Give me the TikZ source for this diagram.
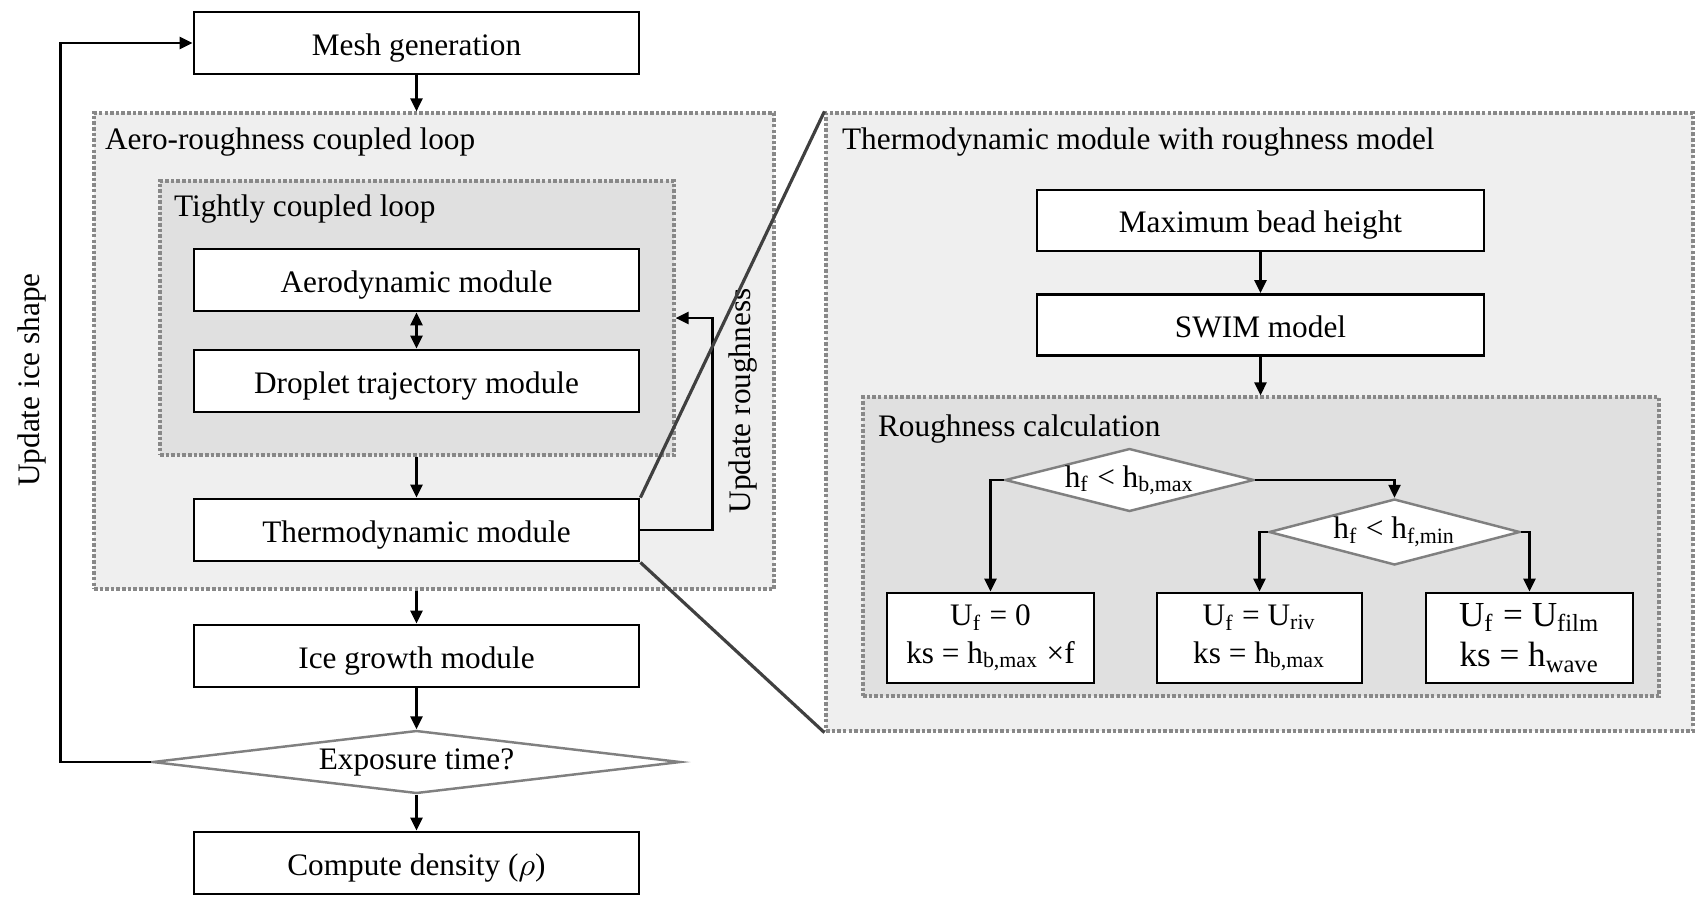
\documentclass[tikz,border=0pt]{standalone}
\usepackage{fontspec}
\setmainfont{Liberation Serif}
\usetikzlibrary{arrows.meta,positioning,calc,shapes.geometric}
\definecolor{loopfill}{RGB}{239,239,239}
\definecolor{tightfill}{RGB}{224,224,224}
\definecolor{dotgray}{RGB}{136,136,136}
\definecolor{zoomgray}{RGB}{64,64,64}
\tikzset{
  mbox/.style={draw, line width=0.8pt, fill=white, minimum width=4.45cm, minimum height=0.62cm, inner sep=0pt, text height=2ex, text depth=0.5ex},
  cbox/.style={draw, line width=0.8pt, fill=white, minimum width=2.06cm, minimum height=0.9cm, align=center, inner sep=0pt},
  dbox/.style={diamond, draw=gray, line width=0.7pt, fill=white, inner sep=0pt},
  loopbox/.style={draw=dotgray, line width=0.9pt, dash pattern=on 1pt off 0.6pt, inner sep=0pt},
  ltitle/.style={anchor=west, inner sep=0pt},
  arr/.style={-{Triangle[length=1.3mm, width=1.2mm]}, line width=0.7pt},
  biarr/.style={{Triangle[length=1.3mm, width=1.2mm]}-{Triangle[length=1.3mm, width=1.2mm]}, line width=0.7pt},
  zoomln/.style={zoomgray, line width=0.9pt},
}

\begin{document}
\begin{tikzpicture}[font=\fontsize{8.9}{10.7}\selectfont]
\useasboundingbox (0,0) rectangle (16.98,-8.97);
% containers
\node[loopbox, fill=loopfill, minimum width=6.80cm, minimum height=4.76cm] (aeroloop) at (4.34,-3.51) {};
\node[loopbox, fill=tightfill, minimum width=5.14cm, minimum height=2.74cm] (tight) at (4.17,-3.18) {};
\node[loopbox, fill=loopfill, minimum width=8.67cm, minimum height=6.18cm] (thpanel) at (12.595,-4.22) {};
\node[loopbox, fill=tightfill, minimum width=7.96cm, minimum height=2.99cm] (rcalc) at (12.61,-5.465) {};
\node[ltitle] (aerolab) at ([shift={(0.12,-0.31)}]aeroloop.north west) {Aero-roughness coupled loop};
\node[ltitle] (tightlab) at ([shift={(0.15,-0.30)}]tight.north west) {Tightly coupled loop};
\node[ltitle] (thlab) at ([shift={(0.17,-0.31)}]thpanel.north west) {Thermodynamic module with roughness model};
\node[ltitle] (rclab) at ([shift={(0.16,-0.34)}]rcalc.north west) {Roughness calculation};

% main loop
\node[mbox] (mesh) at (4.165,-0.43) {Mesh generation};
\node[mbox] (aero) at (4.165,-2.80) {Aerodynamic module};
\node[mbox] (drop) at (4.165,-3.81) {Droplet trajectory module};
\node[mbox] (thermo) at (4.165,-5.30) {Thermodynamic module};
\node[mbox] (ice) at (4.165,-6.56) {Ice growth module};
\node[dbox, aspect=8.4, minimum width=5.28cm, minimum height=0.63cm] (expo) at (4.165,-7.62) {Exposure time?};
\node[mbox] (dens) at (4.165,-8.63) {Compute density ($\rho$)};
\node[rotate=90] (roughlab) at (7.43,-4.01) {Update roughness};
\node[rotate=90] (shapelab) at (0.32,-3.80) {Update ice shape};

\draw[arr] (mesh.south) -- (mesh.south |- aeroloop.north);
\draw[biarr] (aero.south) -- (drop.north);
\draw[arr] (tight.south -| thermo.north) -- (thermo.north);
\draw[arr] (ice.north |- aeroloop.south) -- (ice.north);
\draw[arr] (ice.south) -- (expo.north);
\draw[arr] (expo.south) -- (dens.north);
\draw[arr] (thermo.east) -- ++(0.72,0) |- (tight.east);
\draw[arr] (expo.west) -- ++(-0.91,0) |- (mesh.west);

% zoom lines
\draw[zoomln] (thermo.north east) -- (thpanel.north west);
\draw[zoomln] (thermo.south east) -- (thpanel.south west);

% roughness model
\node[mbox, minimum width=4.47cm, minimum height=0.61cm] (bead) at (12.605,-2.205) {Maximum bead height};
\node[mbox, minimum width=4.47cm, minimum height=0.61cm] (swim) at (12.605,-3.25) {SWIM model};
\node[dbox, aspect=3.95, minimum width=2.49cm, minimum height=0.63cm] (d1) at (11.295,-4.80) {h\textsubscript{f} < h\textsubscript{b,max}};
\node[dbox, aspect=3.8, minimum width=2.51cm, minimum height=0.66cm] (d2) at (13.945,-5.32) {h\textsubscript{f} < h\textsubscript{f,min}};
\node[cbox, minimum width=2.07cm] (ua) at (9.905,-6.38) {U\textsubscript{f} = 0\\ ks = h\textsubscript{b,max} ×f};
\node[cbox, minimum width=2.05cm] (ub) at (12.595,-6.38) {U\textsubscript{f} = U\textsubscript{riv}\\ ks = h\textsubscript{b,max}};
\node[cbox, minimum width=2.07cm, font=\fontsize{10}{11.5}\selectfont] (uc) at (15.295,-6.38) {U\textsubscript{f} = U\textsubscript{film}\\ ks = h\textsubscript{wave}};

\draw[arr] (bead.south) -- (swim.north);
\draw[arr] (swim.south) -- (swim.south |- rcalc.north);
\draw[arr] (d1.west) -| (ua.north);
\draw[arr] (d1.east) -| (d2.north);
\draw[arr] (d2.west) -| (ub.north);
\draw[arr] (d2.east) -| (uc.north);
\end{tikzpicture}
\end{document}
